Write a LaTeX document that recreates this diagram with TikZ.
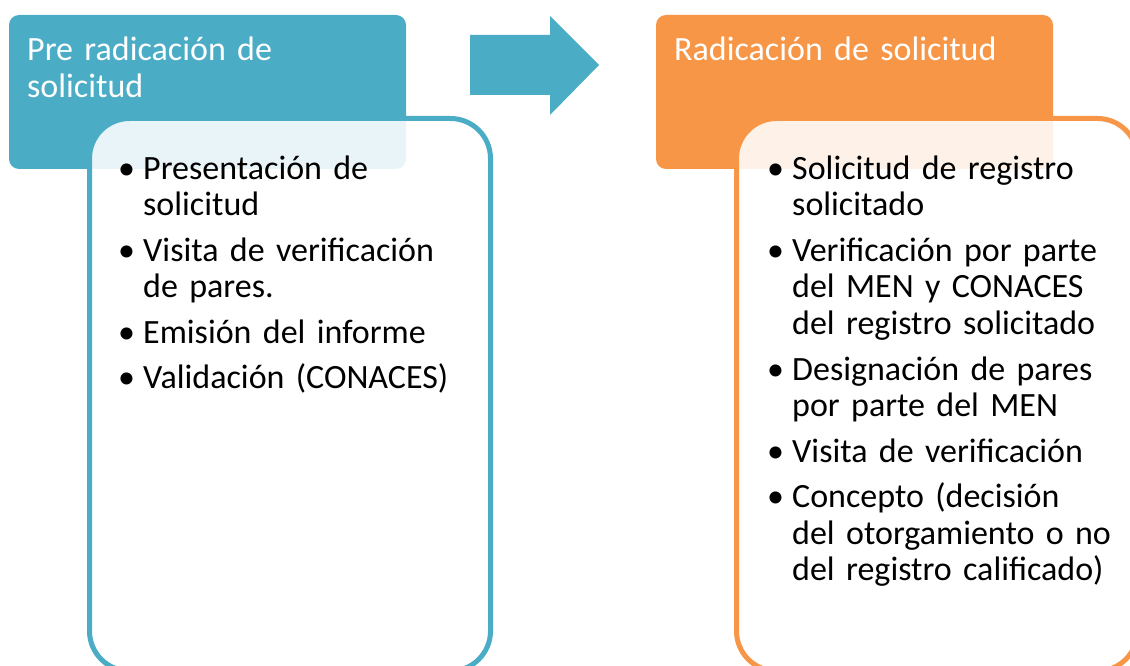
\documentclass[tikz,border=0pt]{standalone}
\usepackage{fontspec}
\setmainfont{Carlito}
\definecolor{accblue}{HTML}{4BACC6}
\definecolor{accorange}{HTML}{F79646}
\newcommand\nl{\hfil\break}
\newcommand\bitem[1]{\hangindent=25pt\hangafter=1\noindent\makebox[25pt][l]{\char"2022}#1\par}
\tikzset{
  headbox/.style={rounded corners=10pt},
  bodybox/.style={line width=5pt, rounded corners=40pt, fill=white, fill opacity=0.88, draw opacity=1},
  headtext/.style={anchor=base west, inner sep=0pt, text width=370pt, align=left, text=white,
     font=\fontsize{34}{36.5}\selectfont},
  bodytext/.style={anchor=base west, inner sep=0pt, text width=360pt, align=left,
     font=\fontsize{34}{36.8}\selectfont\setlength{\parskip}{8.5pt}},
}
\begin{document}
\begin{tikzpicture}[x=1pt,y=-1pt]
\useasboundingbox (0,0) rectangle (1130,666);
\clip (0,0) rectangle (1130,666);
% left column
\fill[accblue, headbox] (9,15) rectangle (406,169);
\node[headtext] (lh) at (27,61) {Pre radicación de\\solicitud};
\draw[accblue, bodybox] (89.5,118.5) rectangle (490.5,671);
\node[bodytext] (lb) at (118,179) {%
\bitem{Presentación de\nl solicitud}%
\bitem{Visita de verificación\nl de pares.}%
\bitem{Emisión del informe}%
\bitem{Validación (CONACES)}};
% arrow
\fill[accblue] (470,35) -- (550,35) -- (550,16) -- (599,65) -- (550,115) -- (550,95) -- (470,95) -- cycle;
% right column
\fill[accorange, headbox] (656,15) rectangle (1053,169);
\node[headtext] (rh) at (674,61) {Radicación de solicitud};
\draw[accorange, bodybox] (736.5,118.5) rectangle (1137.5,671);
\node[bodytext] (rb) at (767,179) {%
\bitem{Solicitud de registro\nl solicitado}%
\bitem{Verificación por parte\nl del MEN y CONACES\nl del registro solicitado}%
\bitem{Designación de pares\nl por parte del MEN}%
\bitem{Visita de verificación}%
\bitem{Concepto (decisión\nl del otorgamiento o no\nl del registro calificado)}};
\end{tikzpicture}
\end{document}
